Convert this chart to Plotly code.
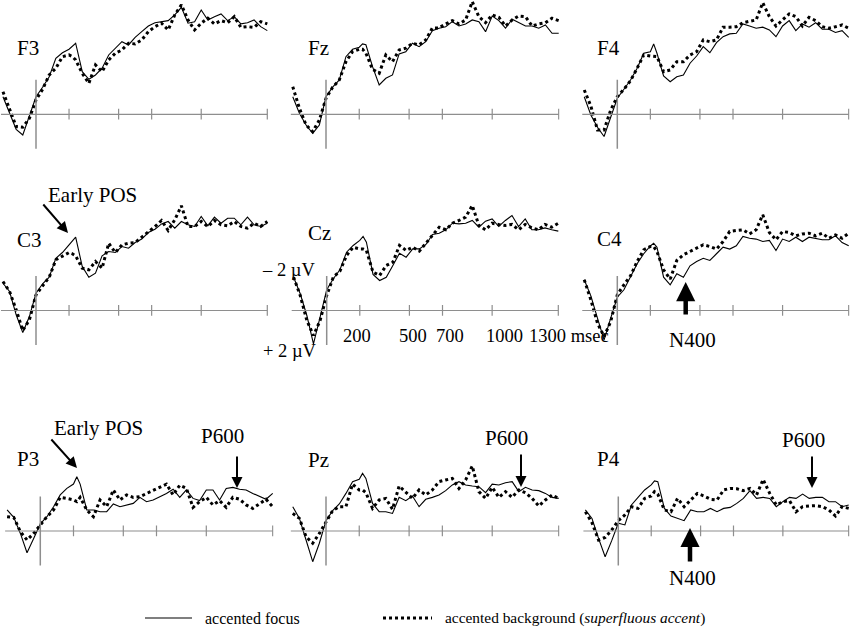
import plotly.graph_objects as go

# ---------------- data (µV, negative plotted upward) ----------------
times_ms = [-200, -160, -120, -80, -40, 0, 40, 80, 120, 160, 200, 220, 240, 280, 320, 360, 400,
            440, 480, 520, 560, 600, 640, 680, 720, 760, 800, 840, 880, 920, 960, 1000,
            1040, 1080, 1120, 1160, 1200, 1240, 1280, 1320, 1360, 1400]

electrodes = ["F3", "Fz", "F4", "C3", "Cz", "C4", "P3", "Pz", "P4"]

f3_focus = [-1.02, -0.06, 0.87, 1.20, 0.14, -1.02, -1.57, -2.18, -3.25, -3.57, -3.77, -3.96, -4.12, -2.47, -2.03, -2.28, -2.67, -3.44, -3.83, -4.21, -4.02, -4.46, -4.79, -5.12, -5.31, -5.37, -5.43, -5.76, -6.20, -5.28, -5.37, -6.05, -5.47, -5.66, -5.82, -5.43, -5.66, -5.24, -5.31, -5.47, -5.08, -4.85]
f3_background = [-1.31, -0.25, 0.71, 0.75, 0.23, -0.83, -1.45, -2.28, -2.67, -3.34, -3.44, -3.34, -3.15, -2.38, -1.80, -2.86, -2.47, -3.15, -3.54, -3.73, -4.12, -4.08, -4.31, -4.79, -5.08, -5.28, -4.89, -5.76, -6.34, -5.47, -4.89, -5.28, -5.57, -5.24, -5.43, -5.31, -5.66, -5.04, -5.08, -5.04, -5.37, -5.24]

fz_focus = [-1.02, -0.06, 0.62, 1.10, 0.62, -1.02, -1.57, -1.99, -3.34, -3.77, -3.89, -4.08, -4.03, -2.76, -1.70, -2.09, -2.28, -3.50, -3.63, -4.12, -3.92, -4.21, -4.85, -4.99, -5.08, -5.37, -5.12, -5.24, -5.47, -5.37, -4.79, -5.70, -5.43, -4.99, -5.51, -5.31, -5.12, -5.12, -4.99, -5.18, -4.70, -4.70]
fz_background = [-1.60, -0.35, 0.62, 1.00, 0.33, -0.93, -1.57, -1.99, -3.05, -3.63, -3.77, -3.77, -3.54, -2.61, -2.38, -3.44, -3.05, -3.73, -3.83, -4.12, -4.02, -4.31, -5.01, -5.01, -5.24, -5.43, -5.24, -5.47, -6.53, -5.66, -5.31, -5.76, -5.62, -5.12, -5.47, -5.70, -5.66, -5.12, -5.24, -5.31, -5.57, -5.43]

f4_focus = [-1.02, 0.04, 0.75, 1.29, 0.17, -0.93, -1.45, -1.99, -2.67, -3.54, -3.63, -4.08, -3.54, -2.22, -1.89, -2.18, -2.28, -2.96, -3.38, -3.92, -3.57, -4.15, -4.50, -4.66, -4.70, -5.24, -5.12, -4.99, -5.05, -4.89, -4.50, -5.12, -5.43, -4.85, -5.24, -5.05, -5.31, -4.93, -4.93, -4.74, -4.85, -4.46]
f4_background = [-1.41, -0.48, 0.91, 0.91, -0.25, -1.02, -1.45, -1.95, -2.67, -3.44, -3.38, -3.38, -3.34, -2.47, -2.57, -3.05, -3.05, -3.44, -3.63, -4.31, -4.21, -4.31, -5.05, -5.05, -5.08, -5.31, -5.37, -5.47, -6.47, -5.66, -5.12, -5.47, -5.82, -5.66, -5.12, -5.62, -5.43, -5.08, -4.99, -5.08, -5.18, -4.99]

c3_focus = [-1.58, -1.10, 0.25, 1.28, 0.35, -1.00, -1.55, -1.93, -3.03, -3.36, -3.81, -4.00, -4.25, -2.55, -1.93, -2.16, -3.17, -3.42, -3.36, -3.71, -3.61, -3.94, -4.14, -4.52, -4.71, -5.02, -5.16, -4.77, -5.16, -4.97, -4.87, -5.45, -4.91, -5.41, -5.06, -5.35, -5.35, -4.97, -5.41, -4.97, -4.87, -5.06]
c3_background = [-1.68, -1.10, -0.04, 1.16, 0.54, -0.91, -1.43, -1.93, -2.94, -3.17, -3.36, -3.29, -3.17, -2.45, -2.36, -2.84, -2.45, -3.90, -3.36, -3.81, -3.90, -3.94, -4.25, -4.52, -4.87, -5.22, -4.64, -5.26, -6.07, -4.87, -4.87, -5.16, -4.87, -5.22, -4.97, -4.91, -5.16, -4.87, -4.77, -5.06, -4.87, -5.16]

cz_focus = [-1.93, -0.97, 0.29, 1.93, 0.39, -1.20, -1.84, -2.36, -3.38, -3.77, -4.06, -4.29, -3.96, -2.09, -1.74, -1.93, -2.61, -3.32, -3.09, -3.57, -3.57, -3.83, -4.41, -4.48, -4.68, -5.06, -5.02, -5.06, -5.22, -4.83, -5.18, -5.31, -4.87, -5.22, -5.51, -4.87, -5.31, -4.68, -4.68, -4.79, -4.68, -4.60]
cz_background = [-1.93, -0.87, 0.58, 1.45, 0.58, -0.87, -1.93, -2.28, -3.19, -3.67, -3.57, -3.57, -3.48, -2.22, -2.03, -2.61, -2.80, -3.77, -3.48, -3.67, -3.44, -3.90, -4.35, -4.83, -4.68, -5.06, -5.22, -5.41, -6.09, -4.93, -4.68, -5.06, -4.99, -4.93, -4.99, -4.68, -4.99, -4.79, -4.68, -4.99, -4.83, -5.06]

c4_focus = [-1.78, -0.85, 0.44, 1.70, 0.44, -0.77, -1.20, -1.93, -2.71, -3.29, -3.75, -3.90, -3.67, -1.93, -1.49, -2.13, -1.93, -2.59, -2.84, -3.03, -2.90, -3.29, -3.67, -3.56, -3.75, -4.29, -4.19, -4.14, -4.00, -4.06, -3.48, -4.14, -4.00, -4.25, -4.00, -4.25, -4.19, -4.10, -4.10, -4.33, -3.94, -3.75]
c4_background = [-1.78, -0.62, 0.73, 1.51, 0.64, -0.91, -1.49, -2.01, -2.84, -3.52, -3.71, -3.71, -3.42, -2.36, -1.82, -2.90, -3.23, -3.42, -3.61, -3.81, -3.71, -3.56, -4.00, -4.58, -4.64, -4.68, -4.44, -4.68, -5.55, -4.52, -4.10, -4.58, -4.52, -4.33, -4.44, -4.48, -4.33, -4.48, -4.19, -4.38, -4.19, -4.48]

p3_focus = [-1.22, -0.79, 0.14, 1.26, 0.43, -0.41, -0.83, -1.41, -2.09, -2.47, -2.72, -3.15, -2.72, -1.22, -1.22, -1.12, -1.12, -1.57, -1.41, -1.51, -1.60, -1.95, -1.70, -1.80, -1.99, -2.18, -2.42, -1.95, -2.38, -1.89, -1.76, -2.38, -2.38, -1.80, -2.47, -2.53, -2.42, -2.38, -2.18, -2.03, -1.84, -2.18]
p3_background = [-0.83, -0.79, 0.04, 0.52, 0.14, -0.35, -0.83, -1.22, -1.95, -1.89, -1.80, -1.70, -1.95, -1.22, -0.83, -1.80, -1.41, -2.38, -1.80, -2.09, -1.95, -1.99, -2.18, -2.38, -2.57, -2.72, -2.09, -2.65, -2.47, -1.37, -1.70, -1.95, -1.51, -1.76, -1.37, -1.95, -1.84, -1.51, -1.31, -1.57, -1.84, -1.41]

pz_focus = [-1.41, -0.73, 0.52, 1.78, 0.71, -0.60, -1.18, -1.57, -2.18, -2.86, -3.00, -3.34, -3.05, -1.60, -1.12, -1.12, -1.02, -1.95, -1.76, -2.03, -1.41, -1.84, -1.95, -2.09, -2.34, -2.67, -2.86, -2.67, -2.61, -2.57, -2.22, -2.72, -2.67, -2.80, -2.86, -2.28, -2.53, -2.38, -2.34, -2.18, -1.95, -1.89]
pz_background = [-1.02, -0.73, 0.33, 0.71, 0.14, -0.54, -1.18, -1.41, -1.41, -2.72, -2.38, -2.38, -2.22, -1.31, -1.80, -1.89, -1.26, -2.61, -2.22, -1.89, -2.38, -2.09, -2.38, -2.86, -2.96, -3.05, -2.47, -2.96, -3.77, -2.28, -1.89, -2.53, -1.95, -2.28, -1.95, -2.38, -2.22, -1.89, -1.45, -1.80, -2.09, -1.89]

p4_focus = [-1.22, -0.73, 0.43, 1.49, 0.56, -0.45, -0.35, -1.51, -1.95, -2.38, -2.67, -2.90, -2.86, -1.31, -0.87, -0.73, -0.60, -1.22, -1.12, -1.12, -1.31, -1.12, -1.31, -1.37, -1.60, -1.89, -2.34, -1.89, -1.95, -1.89, -1.41, -1.70, -1.95, -1.89, -2.14, -1.89, -1.95, -1.95, -1.70, -1.70, -1.41, -1.51]
p4_background = [-1.12, -0.48, 0.52, 0.37, -0.06, -0.60, -0.93, -1.41, -1.31, -1.89, -2.03, -2.28, -2.14, -1.22, -1.12, -1.89, -1.41, -1.80, -2.18, -2.03, -1.84, -1.80, -2.38, -2.47, -2.45, -2.34, -2.47, -2.09, -2.99, -2.18, -1.51, -1.70, -1.76, -1.12, -1.41, -1.45, -1.47, -1.41, -1.22, -0.87, -1.41, -1.31]

focus_series = [f3_focus, fz_focus, f4_focus, c3_focus, cz_focus, c4_focus, p3_focus, pz_focus, p4_focus]
background_series = [f3_background, fz_background, f4_background, c3_background, cz_background,
                     c4_background, p3_background, pz_background, p4_background]

tick_times = [200, 500, 700, 1000, 1400]
tick_labels = ["200", "500", "700", "1000", "1300 msec"]
legend_labels = ["accented focus", "accented background (<i>superfluous accent</i>)"]

# ---------------- layout geometry (pixels) ----------------
W, H = 852, 629
PX_PER_UV = 17.25
X_START = -215
# (zero-time x, last-tick x) for each panel
panel_x = [(36, 267.3), (326, 558.7), (617.3, 848.7),
           (36, 267.3), (326.7, 558.3), (617.3, 848.7),
           (40.3, 272.7), (326, 558.7), (618.3, 848.7)]
row_baseline = [114.3, 310.5, 531]
row_extent = [(0, 165), (185, 365), (395, 600)]
AXIS_COLOR = "#8e8e8e"
FONT = "Liberation Serif"

fig = go.Figure()
layout_axes = {}
shapes = []
annotations = []

for i, name in enumerate(electrodes):
    r = i // 3
    n = "" if i == 0 else str(i + 1)
    xa, ya = "x" + n, "y" + n
    z, last = panel_x[i]
    s = (last - z) / tick_times[-1]
    left = z + X_START * s
    top_px, bot_px = row_extent[r]
    base = row_baseline[r]
    y_top = -(base - top_px) / PX_PER_UV
    y_bot = (bot_px - base) / PX_PER_UV
    layout_axes["xaxis" + n] = dict(domain=[max(left, 0) / W, min(last + 1, W) / W],
                                    range=[X_START, tick_times[-1] + 1 / s],
                                    visible=False, fixedrange=True, anchor=ya)
    layout_axes["yaxis" + n] = dict(domain=[1 - bot_px / H, 1 - top_px / H],
                                    range=[y_bot, y_top], visible=False,
                                    fixedrange=True, anchor=xa)

    # baseline axis
    shapes.append(dict(type="line", xref=xa, yref=ya, x0=X_START + 3, x1=tick_times[-1],
                       y0=0, y1=0, line=dict(color=AXIS_COLOR, width=1.2)))
    # onset line, spanning -2 .. +2 µV
    shapes.append(dict(type="line", xref=xa, yref=ya, x0=0, x1=0, y0=-2, y1=2,
                       line=dict(color=AXIS_COLOR, width=1.5)))
    for tt in tick_times:
        shapes.append(dict(type="line", xref=xa, yref=ya, x0=tt, x1=tt, y0=-0.32, y1=0.3,
                           line=dict(color=AXIS_COLOR, width=1.2)))

    fig.add_trace(go.Scatter(x=times_ms, y=focus_series[i], xaxis=xa, yaxis=ya,
                             mode="lines", line=dict(color="black", width=1.1),
                             showlegend=False, hoverinfo="skip"))
    fig.add_trace(go.Scatter(x=times_ms, y=background_series[i], xaxis=xa, yaxis=ya,
                             mode="lines", line=dict(color="black", width=3, dash="dot"),
                             showlegend=False, hoverinfo="skip"))


def px(x, y):
    return x / W, 1 - y / H


def text(x, y, t, size=21, anchor="center"):
    X, Y = px(x, y)
    annotations.append(dict(x=X, y=Y, xref="paper", yref="paper", text=t, showarrow=False,
                            xanchor=anchor, yanchor="middle",
                            font=dict(family=FONT, size=size, color="black")))


def arrow(x, y, dx, dy, width=2, size=1.1):
    X, Y = px(x, y)
    annotations.append(dict(x=X, y=Y, xref="paper", yref="paper", text="", showarrow=True,
                            ax=dx, ay=dy, arrowhead=2, arrowsize=size, arrowwidth=width,
                            arrowcolor="black", standoff=0, startstandoff=0))


label_pos = [(28, 48), (318, 48), (608, 48), (29, 240), (319, 233), (609, 239),
             (28, 459), (318, 460), (608, 459)]
for name, (lx, ly) in zip(electrodes, label_pos):
    text(lx, ly, name, size=21)

# Cz scale labels
tick_label_x = [357, 413, 450, 505, 527]
for lab, tx in zip(tick_labels, tick_label_x):
    text(tx, 336, lab, size=18.5, anchor="left" if "msec" in lab else "center")
text(288, 270, "– 2 µV", size=18.5)
text(290, 351, "+ 2 µV", size=18.5)

# component annotations
text(92, 195, "Early POS")
arrow(68, 233, -26, -30)
text(98, 428, "Early POS")
arrow(77, 468, -27, -30)
text(222, 436, "P600")
arrow(237, 488, 0, -33)
text(506, 438, "P600")
arrow(521, 487, 0, -34)
text(803, 440, "P600")
arrow(812, 488, 0, -33)
text(692, 340, "N400")
arrow(685.7, 282, 0, 34, width=4.5, size=0.85)
text(692, 578, "N400")
arrow(690, 528, 0, 35, width=4.5, size=0.85)

# legend
ly = 618
x0, y0 = px(145, ly)
x1, _ = px(192, ly)
shapes.append(dict(type="line", xref="paper", yref="paper", x0=x0, x1=x1, y0=y0, y1=y0,
                   line=dict(color="black", width=1.2)))
text(203, ly, legend_labels[0], size=16, anchor="left")
x0, _ = px(383, ly)
x1, _ = px(432, ly)
shapes.append(dict(type="line", xref="paper", yref="paper", x0=x0, x1=x1, y0=y0, y1=y0,
                   line=dict(color="black", width=3, dash="dot")))
text(443, ly, legend_labels[1], size=15.4, anchor="left")

fig.update_layout(width=W, height=H, margin=dict(l=0, r=0, t=0, b=0),
                  paper_bgcolor="white", plot_bgcolor="rgba(0,0,0,0)",
                  showlegend=False, shapes=shapes, annotations=annotations, **layout_axes)

fig.write_html("out.html", config={"displayModeBar": False})
